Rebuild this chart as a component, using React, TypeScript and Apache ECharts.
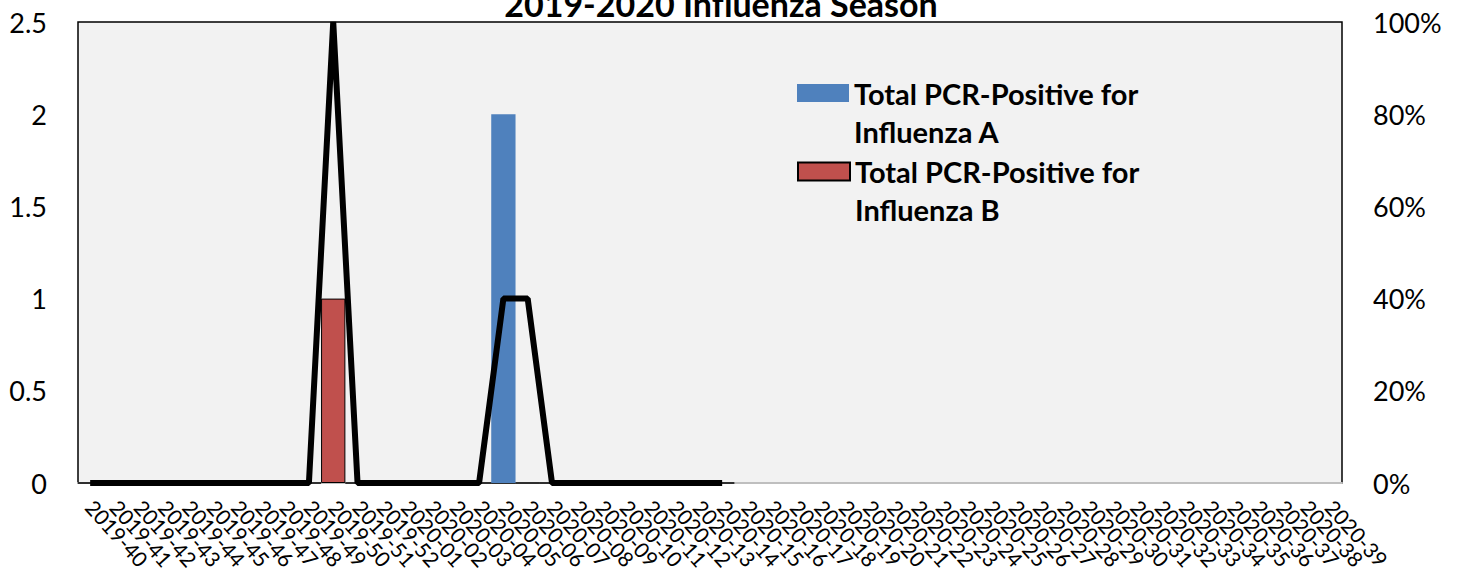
import React, { useEffect, useRef } from "react";
import * as echarts from "echarts";

const weeks: string[] = [
  "2019-40", "2019-41", "2019-42", "2019-43", "2019-44", "2019-45", "2019-46", "2019-47", "2019-48", "2019-49",
  "2019-50", "2019-51", "2019-52",
  "2020-01", "2020-02", "2020-03", "2020-04", "2020-05", "2020-06", "2020-07", "2020-08", "2020-09", "2020-10",
  "2020-11", "2020-12", "2020-13", "2020-14", "2020-15", "2020-16", "2020-17", "2020-18", "2020-19", "2020-20",
  "2020-21", "2020-22", "2020-23", "2020-24", "2020-25", "2020-26", "2020-27", "2020-28", "2020-29", "2020-30",
  "2020-31", "2020-32", "2020-33", "2020-34", "2020-35", "2020-36", "2020-37", "2020-38", "2020-39",
];

// Counts, weeks 2019-40 .. 2020-14
const fluA: number[] = [0, 0, 0, 0, 0, 0, 0, 0, 0, 0, 0, 0, 0, 0, 0, 0, 0, 2, 0, 0, 0, 0, 0, 0, 0, 0, 0];
const fluB: number[] = [0, 0, 0, 0, 0, 0, 0, 0, 0, 0, 1, 0, 0, 0, 0, 0, 0, 0, 0, 0, 0, 0, 0, 0, 0, 0, 0];
// Percent positive (fraction)
const pctPositive: number[] = [0, 0, 0, 0, 0, 0, 0, 0, 0, 0, 1, 0, 0, 0, 0, 0, 0, 0.4, 0.4, 0, 0, 0, 0, 0, 0, 0, 0];

const nameA = "Total PCR-Positive for Influenza A";
const nameB = "Total PCR-Positive for Influenza B";
const nameLine = "Percent Positive";

const FONT = "Lato";

export default function App() {
  const ref = useRef<HTMLDivElement>(null);
  useEffect(() => {
    if (!ref.current) return;
    const chart = echarts.init(ref.current, undefined, { renderer: "svg" });
    const LH = 38;
    const legendText = {
      fontFamily: FONT,
      fontSize: 29,
      fontWeight: "bold" as const,
      color: "#000",
      lineHeight: LH,
    };
    const fmt = (n: string) => "\n" + n.replace(" Influenza", "\nInfluenza");
    const legendBase = {
      orient: "vertical",
      left: 797,
      padding: 0,
      itemWidth: 52,
      itemHeight: 18,
      icon: "rect",
      formatter: fmt,
      textStyle: legendText,
      selectedMode: false,
    };
    chart.setOption({
      animation: false,
      backgroundColor: "#fff",
      textStyle: { fontFamily: FONT },
      title: {
        text: "2019-2020 Influenza Season",
        left: 716,
        textAlign: "center",
        top: -19,
        textStyle: { fontFamily: FONT, fontSize: 34, fontWeight: "bold", color: "#000" },
      },
      legend: [
        { ...legendBase, data: [nameA], top: 93 - 1.5 * LH },
        { ...legendBase, data: [nameB], top: 171.5 - 1.5 * LH },
      ],
      grid: {
        left: 78,
        right: 120,
        top: 22,
        bottom: 90,
        show: true,
        backgroundColor: "#f2f2f2",
        borderColor: "#000",
        borderWidth: 1.5,
      },
      xAxis: {
        type: "category",
        data: weeks,
        axisLine: { show: true, lineStyle: { color: "#bfbfbf", width: 2 } },
        axisTick: { show: false },
        axisLabel: {
          interval: 0,
          rotate: -48,
          margin: 20,
          fontFamily: FONT,
          fontSize: 21,
          color: "#000",
        },
      },
      yAxis: [
        {
          type: "value",
          min: 0,
          max: 2.5,
          interval: 0.5,
          splitLine: { show: false },
          axisLine: { show: false },
          axisTick: { show: false },
          axisLabel: { margin: 31, fontFamily: FONT, fontSize: 27, color: "#000" },
        },
        {
          type: "value",
          min: 0,
          max: 1,
          interval: 0.2,
          position: "right",
          splitLine: { show: false },
          axisLine: { show: false },
          axisTick: { show: false },
          axisLabel: {
            margin: 31,
            fontFamily: FONT,
            fontSize: 27,
            color: "#000",
            formatter: (v: number) => Math.round(v * 100) + "%",
          },
        },
      ],
      series: [
        {
          name: nameB,
          type: "bar",
          stack: "flu",
          data: fluB,
          barCategoryGap: "0%",
          itemStyle: { color: "#c0504d", borderColor: "#000", borderWidth: 1 },
        },
        {
          name: nameA,
          type: "bar",
          stack: "flu",
          data: fluA,
          barCategoryGap: "0%",
          itemStyle: { color: "#4f81bd" },
        },
        {
          name: nameLine,
          type: "line",
          yAxisIndex: 1,
          data: pctPositive,
          symbol: "none",
          z: 5,
          lineStyle: { color: "#000", width: 6 },
        },
      ],
    });
    return () => chart.dispose();
  }, []);
  return (
    <div
      ref={ref}
      style={{ position: "fixed", left: 0, top: 0, width: 1462, height: 573 }}
    />
  );
}
